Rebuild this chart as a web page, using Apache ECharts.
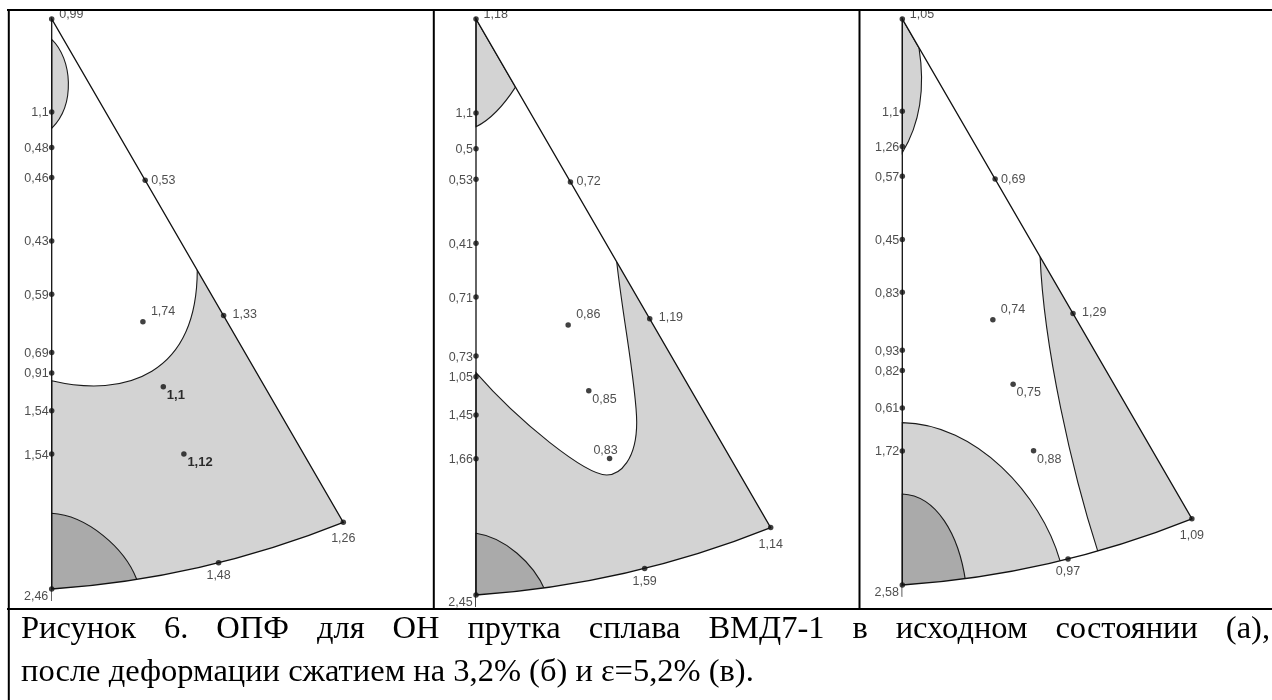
<!DOCTYPE html>
<html><head><meta charset="utf-8">
<script src="https://cdn.jsdelivr.net/npm/echarts@6/dist/echarts.min.js"></script>
<style>html,body{margin:0;padding:0;background:#fff}#c{width:1272px;height:700px}</style>
</head><body><div id="c"></div>
<script>
// ================= DATA =================
// measurement sites in the standard triangle (normalised: [001]-[101] edge = 1)
const sitePositions = [
  [0, 1],                                   // top vertex
  [0, 0.8368], [0, 0.7746], [0, 0.7220], [0, 0.6105], [0, 0.5172],
  [0, 0.4148], [0, 0.3790], [0, 0.3127], [0, 0.2367],   // left edge
  [0, 0],                                   // bottom-left vertex
  [0.1640, 0.7172], [0.3016, 0.4797],       // diagonal edge
  [0.5116, 0.1170],                         // right vertex
  [0.2928, 0.0460],                         // arc edge
  [0.1600, 0.4688], [0.1958, 0.3548], [0.2319, 0.2370]  // interior
];
const valuesA = [0.99, 1.1, 0.48, 0.46, 0.43, 0.59, 0.69, 0.91, 1.54, 1.54, 2.46, 0.53, 1.33, 1.26, 1.48, 1.74, 1.1, 1.12];
const valuesB = [1.18, 1.1, 0.5, 0.53, 0.41, 0.71, 0.73, 1.05, 1.45, 1.66, 2.45, 0.72, 1.19, 1.14, 1.59, 0.86, 0.85, 0.83];
const valuesC = [1.05, 1.1, 1.26, 0.57, 0.45, 0.83, 0.93, 0.82, 0.61, 1.72, 2.58, 0.69, 1.29, 1.09, 0.97, 0.74, 0.75, 0.88];

// triangle: vertices and the arc edge (bezier control points)
const triangleVertices = [[0, 1], [0, 0], [0.5116, 0.1170]];
const arcControls = [[0.1755, 0.0120], [0.3483, 0.0516]];

// contour regions (level, outline) per panel
const regionsA = [
  ['light', [['M', 0, 0.9644], ['C', 0.036, 0.93, 0.042, 0.85, 0, 0.8082], ['Z']]],
  ['light', [['M', 0.2554, 0.5596], ['C', 0.2549, 0.3754, 0.1286, 0.3351, 0, 0.3654], ['L', 0, -0.02], ['L', 0.6, -0.02], ['L', 0.6, 0.5596], ['Z']]],
  ['dark',  [['M', 0, 0.1328], ['C', 0.062, 0.129, 0.128, 0.072, 0.1491, 0.017], ['L', 0.156, -0.02], ['L', 0, -0.02], ['Z']]]
];
const regionsB = [
  ['light', [['M', 0, 1], ['L', 0, 0.813], ['Q', 0.035, 0.83, 0.0685, 0.8818], ['Z']]],
  ['light', [['M', 0.2443, 0.5786], ['C', 0.255, 0.48, 0.279, 0.36, 0.279, 0.30], ['C', 0.279, 0.235, 0.25, 0.2083, 0.2269, 0.2083],
             ['C', 0.19, 0.2083, 0.075, 0.30, 0, 0.3859], ['L', 0, -0.02], ['L', 0.6, -0.02], ['L', 0.6, 0.5786], ['Z']]],
  ['dark',  [['M', 0, 0.1071], ['C', 0.05, 0.1, 0.1, 0.055, 0.12, 0.008], ['L', 0.126, -0.02], ['L', 0, -0.02], ['Z']]]
];
const regionsC = [
  ['light', [['M', 0, 1], ['L', 0.0295, 0.949], ['C', 0.042, 0.87, 0.028, 0.81, 0, 0.7638], ['Z']]],
  ['light', [['M', 0.2435, 0.5797], ['C', 0.25, 0.42, 0.3, 0.2, 0.3452, 0.0602], ['L', 0.352, -0.02], ['L', 0.6, -0.02], ['L', 0.6, 0.5797], ['Z']]],
  ['light', [['M', 0, 0.2868], ['C', 0.13, 0.285, 0.245, 0.16, 0.2786, 0.0429], ['L', 0.29, -0.02], ['L', 0, -0.02], ['Z']]],
  ['dark',  [['M', 0, 0.1608], ['C', 0.06, 0.158, 0.1, 0.09, 0.112, 0.005], ['L', 0.115, -0.02], ['L', 0, -0.02], ['Z']]]
];

const captionLine1 = 'Рисунок 6. ОПФ для ОН прутка сплава ВМД7-1 в исходном состоянии (а),';
const captionLine2 = 'после деформации сжатием на 3,2% (б) и ε=5,2% (в).';

// ================= STYLE / LAYOUT =================
const panels = [
  { left: 51.7, top: 19, size: 570, values: valuesA, regions: regionsA, bold: [16, 17], inner: ['ur', 'lr', 'lr'] },
  { left: 476,  top: 19, size: 576, values: valuesB, regions: regionsB, bold: [],       inner: ['ur', 'lr', 'up'] },
  { left: 902.3, top: 19, size: 566, values: valuesC, regions: regionsC, bold: [],      inner: ['ur', 'lr', 'lr'] }
];
const shade = { light: '#d3d3d3', dark: '#aaaaaa' };
const XMAX = 0.6;
const place = {
  top: { dx: 7.5, dy: -4.5, align: 'left' },
  left: { dx: -3, dy: 1, align: 'right' },
  bl: { dx: -3.4, dy: 8, align: 'right' },
  d1: { dx: 6, dy: 0, align: 'left' },
  d2: { dx: 9, dy: -1, align: 'left' },
  r: { dx: 0, dy: 16.5, align: 'center' },
  arc: { dx: 0, dy: 13, align: 'center' },
  ur: { dx: 8, dy: -10, align: 'left' },
  lr: { dx: 3.5, dy: 8.5, align: 'left' },
  up: { dx: -4, dy: -8.4, align: 'center' }
};
const basePlace = ['top', 'left', 'left', 'left', 'left', 'left', 'left', 'left', 'left', 'left', 'bl', 'd1', 'd2', 'r', 'arc'];
const fmt = v => String(v).replace('.', ',');

function pathFrom(segs, api) {
  let d = '';
  segs.forEach(s => {
    d += s[0];
    for (let i = 1; i < s.length; i += 2) {
      const p = api.coord([s[i], s[i + 1]]);
      d += ' ' + p[0].toFixed(2) + ' ' + p[1].toFixed(2);
    }
    d += ' ';
  });
  return d;
}
const T = triangleVertices, A = arcControls;
const outlineSegs = [['M', T[0][0], T[0][1]], ['L', T[1][0], T[1][1]],
  ['C', A[0][0], A[0][1], A[1][0], A[1][1], T[2][0], T[2][1]], ['Z']];
const maskSegs = [['M', T[0][0], T[0][1]], ['L', T[2][0], T[2][1]],
  ['C', A[1][0], A[1][1], A[0][0], A[0][1], T[1][0], T[1][1]],
  ['L', 0, -0.025], ['L', XMAX + 0.02, -0.025], ['L', XMAX + 0.02, 1], ['Z']];

const grids = [], xAxes = [], yAxes = [], series = [];
panels.forEach((pn, k) => {
  grids.push({ left: pn.left, top: pn.top, width: pn.size * XMAX, height: pn.size, containLabel: false });
  xAxes.push({ gridIndex: k, type: 'value', min: 0, max: XMAX, show: false });
  yAxes.push({ gridIndex: k, type: 'value', min: 0, max: 1, show: false });
  series.push({
    type: 'custom', xAxisIndex: k, yAxisIndex: k, z: 1, silent: true,
    data: pn.regions.map((r, i) => [i, 0]),
    renderItem: (params, api) => {
      const r = pn.regions[params.dataIndex];
      return { type: 'path', shape: { pathData: pathFrom(r[1], api) },
        style: { fill: shade[r[0]], stroke: '#1a1a1a', lineWidth: 1.1 } };
    }
  });
  series.push({
    type: 'custom', xAxisIndex: k, yAxisIndex: k, z: 2, silent: true, data: [[0, 0]],
    renderItem: (params, api) => ({ type: 'path', shape: { pathData: pathFrom(maskSegs, api) }, style: { fill: '#ffffff', stroke: null } })
  });
  series.push({
    type: 'custom', xAxisIndex: k, yAxisIndex: k, z: 3, silent: true, data: [[0, 0]],
    renderItem: (params, api) => ({ type: 'path', shape: { pathData: pathFrom(outlineSegs, api) }, style: { fill: null, stroke: '#111', lineWidth: 1.3 } })
  });
  const keys = basePlace.concat(pn.inner);
  series.push({
    type: 'scatter', xAxisIndex: k, yAxisIndex: k, z: 4, silent: true,
    symbol: 'circle', symbolSize: 5.5, itemStyle: { color: '#111' },
    data: sitePositions.map((p, i) => {
      const pl = place[keys[i]];
      const bold = pn.bold.indexOf(i) >= 0;
      return { value: [p[0], p[1]], label: {
        show: true, formatter: fmt(pn.values[i]), position: [pl.dx + 2.75, pl.dy + 2.75],
        align: pl.align, verticalAlign: 'middle',
        fontFamily: '"Liberation Sans", Arial, sans-serif', fontSize: bold ? 13 : 12.5,
        fontWeight: bold ? 'bold' : 'normal', color: bold ? '#000' : '#222' } };
    })
  });
});

// borders
const graphics = [];
const ln = (x1, y1, x2, y2) => graphics.push({ type: 'line', z: 100, shape: { x1, y1, x2, y2 }, style: { stroke: '#000', lineWidth: 2 } });
ln(7, 10, 1272, 10); ln(8.8, 9, 8.8, 700); ln(433.8, 10, 433.8, 609); ln(859.5, 10, 859.5, 609); ln(7, 609, 1272, 609);

// caption (line 1 justified)
const capFont = '32.5px "Liberation Serif", "Times New Roman", serif';
const mctx = document.createElement('canvas').getContext('2d');
mctx.font = capFont;
const words = captionLine1.split(' ');
const wW = words.map(w => mctx.measureText(w).width);
const capLeft = 21, capRight = 1270;
const gap = (capRight - capLeft - wW.reduce((a, b) => a + b, 0)) / (words.length - 1);
let cx = capLeft;
words.forEach((w, i) => {
  graphics.push({ type: 'text', z: 100, x: cx, y: 629, style: { text: w, font: capFont, fill: '#000', align: 'left', verticalAlign: 'middle' } });
  cx += wW[i] + gap;
});
graphics.push({ type: 'text', z: 100, x: capLeft, y: 672, style: { text: captionLine2, font: capFont, fill: '#000', align: 'left', verticalAlign: 'middle' } });

const chart = echarts.init(document.getElementById('c'), null, { renderer: 'canvas', width: 1272, height: 700 });
chart.setOption({
  animation: false, backgroundColor: '#ffffff',
  grid: grids, xAxis: xAxes, yAxis: yAxes, series: series,
  graphic: { elements: graphics }
});
</script></body></html>
